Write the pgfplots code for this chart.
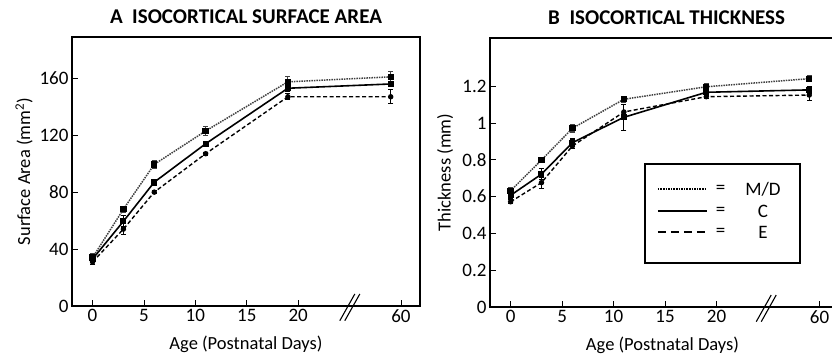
\documentclass[border=0pt]{standalone}
\usepackage{pgfplots}
\pgfplotsset{compat=1.18}
\usepackage{fontspec}
\setmainfont{Carlito}

\begin{document}
\begin{tikzpicture}
\pgfplotsset{
  panel/.style={
    scale only axis,
    anchor=south west,
    axis line style={line width=1.2pt},
    every tick/.style={line width=0.9pt, black},
    tick align=inside,
    major tick length=6pt,
    xtick pos=bottom, ytick pos=left,
    xmin=-2,
    xtick={0,5,10,15,20,30},
    xticklabels={0,5,10,15,20,60},
    tick label style={font=\fontsize{19}{21}\selectfont},
    label style={font=\fontsize{18.5}{20}\selectfont},
    title style={font=\fontsize{21}{23}\selectfont\bfseries},
    /pgf/number format/assume math mode=true,
    clip=false,
    xlabel={Age (Postnatal Days)},
    xlabel style={at={(axis description cs:0.5,-0.141)}, anchor=center},
  },
  errs/.style={
    error bars/.cd, y dir=both, y explicit,
    error bar style={line width=1pt, solid},
    error mark options={rotate=90, mark size=2.6pt, line width=1.1pt, solid},
  },
  MD/.style={black!75, line width=1.5pt, densely dotted, mark=square*, mark size=2.4pt, mark options={solid, black}, errs},
  CC/.style={black, line width=1.6pt, solid, mark=square*, mark size=2.2pt, mark options={solid}, errs},
  EE/.style={black, line width=1.4pt, dash pattern=on 4pt off 2.5pt, mark=*, mark size=2pt, mark options={solid}, errs},
}
\path[use as bounding box] (0pt,0pt) rectangle (832pt,354pt);

% ---------- Panel A ----------
\begin{axis}[panel,
  at={(72pt,48pt)},
  width=348pt, height=269pt,
  xmax=31.85, ymin=0, ymax=189,
  ytick={0,40,80,120,160},
  ylabel={Surface Area (mm\textsuperscript{2})},
  ylabel style={at={(axis description cs:-0.138,0.5)}, anchor=center},
  title={A\ \ ISOCORTICAL SURFACE AREA},
  title style={at={(axis description cs:0.5,1)}, anchor=center, yshift=14pt},
]
\addplot[MD] coordinates {
 (0,34) +- (0,3)
 (3,68) +- (0,2)
 (6,99.5) +- (0,3)
 (11,123) +- (0,3)
 (19,157.5) +- (0,3.5)
 (29,161) +- (0,3.5)
};
\addplot[CC] coordinates {
 (0,33) +- (0,2)
 (3,59.5) +- (0,4)
 (6,87) +- (0,2)
 (11,114) +- (0,1.5)
 (19,153) +- (0,2)
 (29,156) +- (0,2)
};
\addplot[EE] coordinates {
 (0,31) +- (0,2)
 (3,54) +- (0,4)
 (6,80) +- (0,1)
 (11,107) +- (0,1)
 (19,147) +- (0,2)
 (29,147) +- (0,5)
};
\draw[line width=1.1pt] ([xshift=-10.8pt,yshift=-14.7pt]axis cs:25.1,0) -- ++(15pt,26.7pt);
\draw[line width=1.1pt] ([xshift=-5.8pt,yshift=-14.7pt]axis cs:25.1,0) -- ++(15pt,26.7pt);
\end{axis}

% ---------- Panel B ----------
\begin{axis}[panel,
  at={(490pt,47pt)},
  width=345pt, height=269pt,
  xmax=31.5, ymin=0, ymax=1.462,
  ytick={0,0.2,0.4,0.6,0.8,1,1.2},
  ylabel={Thickness (mm)},
  ylabel style={at={(axis description cs:-0.13,0.5)}, anchor=center},
  title={B\ \ ISOCORTICAL THICKNESS},
  title style={at={(axis description cs:0.512,1)}, anchor=center, yshift=14pt},
]
\addplot[MD] coordinates {
 (0,0.632) +- (0,0.015)
 (3,0.799) +- (0,0.01)
 (6,0.971) +- (0,0.02)
 (11,1.129) +- (0,0.015)
 (19,1.197) +- (0,0.02)
 (29,1.241) +- (0,0.015)
};
\addplot[CC] coordinates {
 (0,0.607) +- (0,0.02)
 (3,0.722) +- (0,0.03)
 (6,0.893) +- (0,0.02)
 (11,1.031) +- (0,0.07)
 (19,1.167) +- (0,0.02)
 (29,1.18) +- (0,0.02)
};
\addplot[EE] coordinates {
 (0,0.572) +- (0,0.01)
 (3,0.676) +- (0,0.03)
 (6,0.875) +- (0,0.015)
 (11,1.06) +- (0,0.04)
 (19,1.143) +- (0,0.01)
 (29,1.152) +- (0,0.03)
};
\draw[line width=1.1pt] ([xshift=-10.8pt,yshift=-14.7pt]axis cs:24.9,0) -- ++(15pt,26.7pt);
\draw[line width=1.1pt] ([xshift=-5.8pt,yshift=-14.7pt]axis cs:24.9,0) -- ++(15pt,26.7pt);
% legend
\draw[line width=1.2pt, fill=white] (axis cs:13.05,0.239) rectangle (axis cs:28.1,0.777);
\draw[line width=1.6pt, densely dotted] (axis cs:14.3,0.641) -- (axis cs:19.07,0.641);
\draw[line width=1.6pt] (axis cs:14.3,0.522) -- (axis cs:19.07,0.522);
\draw[line width=1.6pt, dash pattern=on 8pt off 5pt] (axis cs:14.3,0.408) -- (axis cs:19.07,0.408);
\node[font=\fontsize{19}{21}\selectfont] at (axis cs:20.4,0.641) {=};
\node[font=\fontsize{19}{21}\selectfont] at (axis cs:20.4,0.522) {=};
\node[font=\fontsize{19}{21}\selectfont] at (axis cs:20.4,0.408) {=};
\node[font=\fontsize{19}{21}\selectfont] at (axis cs:24.5,0.641) {M/D};
\node[font=\fontsize{19}{21}\selectfont] at (axis cs:24.5,0.522) {C};
\node[font=\fontsize{19}{21}\selectfont] at (axis cs:24.5,0.408) {E};
\end{axis}
\end{tikzpicture}
\end{document}
